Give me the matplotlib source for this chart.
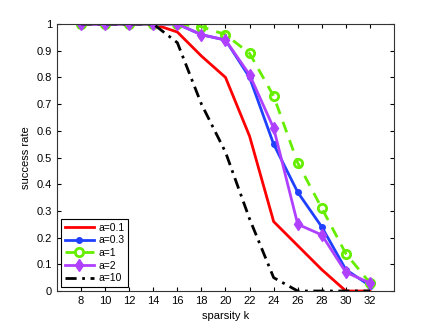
import matplotlib
matplotlib.use('Agg')
import matplotlib.pyplot as plt

k = [8, 10, 12, 14, 16, 18, 20, 22, 24, 26, 28, 30, 32]
a01 = [1, 1, 1, 1, 0.97, 0.88, 0.80, 0.58, 0.26, 0.17, 0.08, 0.0, 0.0]
a03 = [1, 1, 1, 1, 1.0, 0.96, 0.94, 0.80, 0.55, 0.37, 0.24, 0.08, 0.02]
a1 = [1, 1, 1, 1, 1.0, 0.99, 0.96, 0.89, 0.73, 0.48, 0.31, 0.14, 0.03]
a2 = [1, 1, 1, 1, 1.0, 0.96, 0.94, 0.81, 0.61, 0.25, 0.21, 0.07, 0.03]
a10 = [1, 1, 1, 1, 0.93, 0.70, 0.52, 0.27, 0.05, 0.0, 0.0, 0.0, 0.0]

plt.rcParams['font.family'] = ['Liberation Sans', 'DejaVu Sans']

fig = plt.figure(figsize=(4.36, 3.28), dpi=100)
ax = fig.add_axes([0.1307, 0.1128, 0.773, 0.814])

ax.plot(k, a01, color='#ff0000', lw=2, label='a=0.1')
ax.plot(k, a03, color='#2040ff', lw=2, marker='o', ms=4, label='a=0.3')
ax.plot(k, a1, color='#66ee00', lw=2, ls=(0, (4, 3)), marker='o', ms=6,
        mfc='none', mew=2, label='a=1')
ax.plot(k, a2, color='#b040ff', lw=2, marker='d', ms=6, label='a=2')
ax.plot(k, a10, color='black', lw=2, ls=(0, (4, 2, 1, 2)), label='a=10')

ax.set_xlim(6, 34)
ax.set_ylim(0, 1)
ax.set_xticks(k)
ax.set_yticks([i / 10 for i in range(11)])
ax.set_yticklabels(['0'] + ['%.1f' % (i / 10) for i in range(1, 10)] + ['1'])
ax.tick_params(direction='in', top=True, right=True, labelsize=8, length=3)
ax.set_xlabel('sparsity k', fontsize=8)
ax.set_ylabel('success rate', fontsize=8)
for s in ax.spines.values():
    s.set_color('#333333')

leg = ax.legend(loc='lower left', fontsize=7.5, fancybox=False, framealpha=1,
                edgecolor='black', borderaxespad=0.4, handlelength=2.8,
                handletextpad=0.4, labelspacing=0.25, borderpad=0.35)
leg.get_frame().set_linewidth(0.8)

fig.savefig('out.png', dpi=100)
